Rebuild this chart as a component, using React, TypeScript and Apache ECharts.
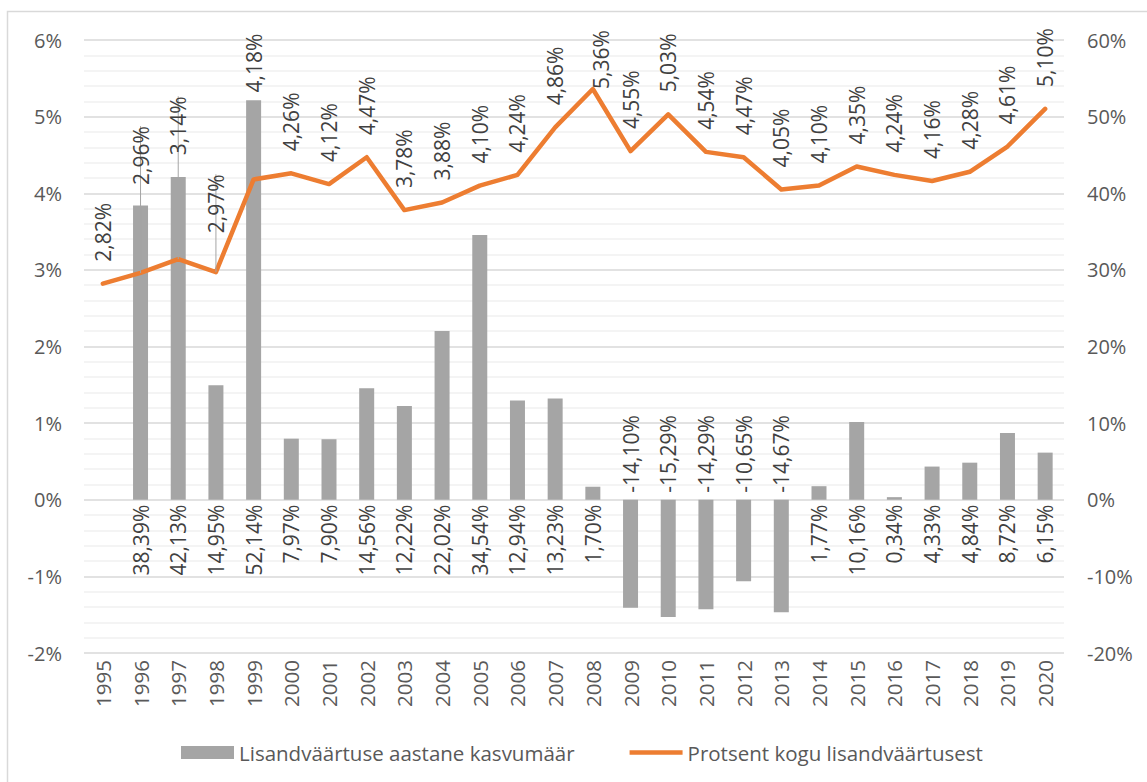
import React, { useEffect, useRef } from "react";
import * as echarts from "echarts";

const years = [
  "1995", "1996", "1997", "1998", "1999", "2000", "2001", "2002", "2003", "2004",
  "2005", "2006", "2007", "2008", "2009", "2010", "2011", "2012", "2013", "2014",
  "2015", "2016", "2017", "2018", "2019", "2020",
];

// Lisandväärtuse aastane kasvumäär (right axis, %)
const growthValues: (number | null)[] = [
  null, 38.39, 42.13, 14.95, 52.14, 7.97, 7.9, 14.56, 12.22, 22.02,
  34.54, 12.94, 13.23, 1.7, -14.1, -15.29, -14.29, -10.65, -14.67, 1.77,
  10.16, 0.34, 4.33, 4.84, 8.72, 6.15,
];

// Protsent kogu lisandväärtusest (left axis, %)
const shareValues = [
  2.82, 2.96, 3.14, 2.97, 4.18, 4.26, 4.12, 4.47, 3.78, 3.88,
  4.1, 4.24, 4.86, 5.36, 4.55, 5.03, 4.54, 4.47, 4.05, 4.1,
  4.35, 4.24, 4.16, 4.28, 4.61, 5.1,
];

const leftTicks = { min: -2, max: 6, interval: 1 };
const rightTicks = { min: -20, max: 60, interval: 10 };

const barName = "Lisandväärtuse aastane kasvumäär";
const lineName = "Protsent kogu lisandväärtusest";

const FONT = "'Open Sans', sans-serif";
const fmt = (v: number) => v.toFixed(2).replace(".", ",") + "%";

const BASE_DIST = 22;
// manual label displacement (styling only); labels are rotated 90°, so
// the layout's local x points up on screen and local y points right
const labelShift: Record<number, { up?: number; right?: number; line?: boolean }> = {
  1: { up: 66, line: true },
  2: { up: 82, line: true },
  3: { up: 17, line: true },
  4: { up: 65 },
  13: { up: -22, right: 8 },
};

export default function App() {
  const ref = useRef<HTMLDivElement>(null);
  useEffect(() => {
    if (!ref.current) return;
    const chart = echarts.init(ref.current, null, { renderer: "svg" });
    const barData = growthValues.map((v) =>
      v == null
        ? "-"
        : {
            value: v,
            label:
              v >= 0
                ? { position: "bottom", align: "right", verticalAlign: "middle", distance: 5 }
                : { position: "top", align: "left", verticalAlign: "middle", distance: 7 },
          }
    );
    const lineData = shareValues.map((v, i) => {
      const s = labelShift[i];
      if (!s) return { value: v };
      const item: any = { value: v };
      if (s.line) item.labelLine = { show: true, lineStyle: { color: "#a5a5a5", width: 1 } };
      else item.label = { distance: BASE_DIST + (s.up || 0) };
      return item;
    });
    chart.setOption({
      animation: false,
      backgroundColor: "#ffffff",
      textStyle: { fontFamily: FONT },
      graphic: [
        {
          type: "rect",
          shape: { x: 7.5, y: 11.5, width: 1160, height: 790 },
          style: { fill: "none", stroke: "#d9d9d9", lineWidth: 1.5 },
          silent: true,
        },
      ],
      grid: { left: 84, right: 83, top: 40, bottom: 129 },
      legend: {
        left: 176,
        top: 737,
        itemWidth: 53,
        itemHeight: 13,
        itemGap: 55,
        textStyle: { fontSize: 20.5, color: "#595959", fontFamily: FONT },
        data: [
          { name: barName, icon: "rect" },
          { name: lineName, icon: "path://M0 0H57V5H0Z" },
        ],
      },
      xAxis: {
        type: "category",
        data: years,
        axisTick: { show: false },
        axisLine: { show: false },
        axisLabel: { rotate: 90, fontSize: 20.5, color: "#595959", margin: 7, fontFamily: FONT },
      },
      yAxis: [
        {
          type: "value",
          position: "left",
          ...leftTicks,
          axisLabel: { formatter: "{value}%", fontSize: 20, color: "#595959", margin: 22, fontFamily: FONT },
          axisLine: { show: false },
          axisTick: { show: false },
          splitLine: { show: true, lineStyle: { color: "#d9d9d9", width: 1.5 } },
          minorTick: { show: false, splitNumber: 5 },
          minorSplitLine: { show: true, lineStyle: { color: "#f0f0f0", width: 1.5 } },
        },
        {
          type: "value",
          position: "right",
          ...rightTicks,
          axisLabel: { formatter: "{value}%", fontSize: 20, color: "#595959", margin: 23, fontFamily: FONT },
          axisLine: { show: false },
          axisTick: { show: false },
          splitLine: { show: false },
        },
      ],
      series: [
        {
          name: barName,
          type: "bar",
          yAxisIndex: 1,
          barWidth: 15,
          itemStyle: { color: "#a5a5a5" },
          label: {
            show: true,
            rotate: 90,
            fontSize: 21,
            color: "#404040",
            fontFamily: FONT,
            formatter: (p: any) => fmt(p.value),
          },
          data: barData,
          z: 2,
        },
        {
          name: lineName,
          type: "line",
          yAxisIndex: 0,
          symbol: "circle",
          symbolSize: 0,
          showSymbol: true,
          itemStyle: { color: "#ed7d31" },
          lineStyle: { color: "#ed7d31", width: 4.5, cap: "round", join: "round" },
          label: {
            show: true,
            position: "top",
            rotate: 90,
            align: "left",
            verticalAlign: "middle",
            distance: BASE_DIST,
            fontSize: 21,
            color: "#404040",
            fontFamily: FONT,
            formatter: (p: any) => fmt(p.value),
          },
          labelLine: { show: false },
          labelLayout: (params: any) => {
            const s = labelShift[params.dataIndex];
            if (!s) return {};
            return s.line ? { dx: s.up || 0, dy: s.right || 0 } : { dy: s.right || 0 };
          },
          data: lineData,
          z: 3,
        },
      ],
    });
    return () => chart.dispose();
  }, []);
  return (
    <div
      ref={ref}
      style={{ position: "fixed", left: 0, top: 0, width: 1147, height: 782, background: "#fff" }}
    />
  );
}
